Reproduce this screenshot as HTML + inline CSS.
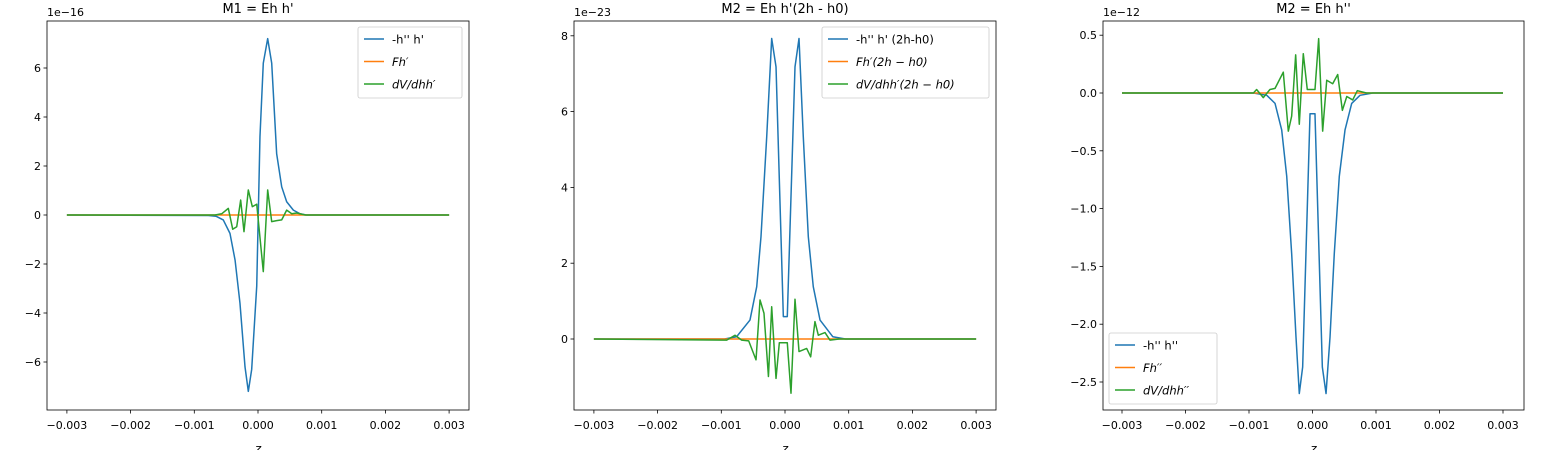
<!DOCTYPE html>
<html><head><meta charset="utf-8"><style>
body{margin:0;background:#fff;width:1550px;height:450px;overflow:hidden}
svg{font-family:"DejaVu Sans","Liberation Sans",sans-serif}
</style></head><body>
<svg id="fig" width="1550" height="450" xmlns="http://www.w3.org/2000/svg"></svg>
<script>
// ---- Panel 1 data (z in units of 1e-4, values in units of 1e-16) ----
const p1BlueZ = [-30,-7.8,-6.6,-5.45,-4.4,-3.6,-2.83,-2.04,-1.52,-0.99,-0.2,0.31,0.83,1.52,2.15,2.93,3.72,4.5,5.55,6.6,7.6,30];
const p1BlueV = [0,-0.02,-0.05,-0.2,-0.75,-1.84,-3.6,-6.2,-7.2,-6.3,-2.9,3.2,6.2,7.2,6.2,2.5,1.15,0.54,0.2,0.05,0,0];
const p1GreenZ = [-30,-8.5,-6.75,-5.7,-4.66,-3.97,-3.34,-2.72,-2.2,-1.52,-0.89,-0.2,0.83,1.52,2.15,2.93,3.72,4.5,5.3,6.07,7.4,30];
const p1GreenV = [0,0,0,0.05,0.27,-0.58,-0.48,0.61,-0.68,1.02,0.34,0.44,-2.31,1.02,-0.27,-0.23,-0.2,0.2,0.05,0.08,0,0];
// ---- Panel 2 data (values 1e-23) ----
const p2BlueZ = [-30,-9.5,-7.6,-5.5,-4.44,-3.77,-2.87,-2.09,-1.41,-0.26,0.36,1.57,2.2,2.87,3.66,4.44,5.5,7.5,9.5,30];
const p2BlueV = [0,0,0.06,0.5,1.38,2.7,5.34,7.93,7.18,0.59,0.59,7.18,7.93,5.34,2.7,1.38,0.5,0.06,0,0];
const p2GreenZ = [-30,-9.15,-7.85,-6.8,-5.7,-4.55,-3.92,-3.3,-2.6,-2.09,-1.41,-0.89,0.36,0.94,1.57,2.2,3.4,4.03,4.7,5.23,6.28,7.06,8.5,30];
const p2GreenV = [0,-0.03,0.1,-0.03,-0.05,-0.55,1.03,0.68,-0.99,0.85,-1.04,-0.1,-0.1,-1.43,1.05,-0.33,-0.25,-0.47,0.46,0.1,0.17,-0.03,0,0];
// ---- Panel 3 data (values 1e-12) ----
const p3BlueZ = [-30,-9.3,-7.2,-5.9,-4.85,-4.06,-3.28,-2.6,-2.08,-1.55,-0.39,0.39,1.55,2.13,2.76,3.43,4.22,5.12,6.17,7.48,9.5,30];
const p3BlueV = [0,0,-0.02,-0.09,-0.32,-0.72,-1.39,-2.11,-2.6,-2.37,-0.18,-0.18,-2.37,-2.6,-2.11,-1.39,-0.72,-0.32,-0.09,-0.02,0,0];
const p3GreenZ = [-30,-9.3,-8.8,-7.75,-6.7,-5.9,-4.6,-3.81,-3.28,-2.65,-2.08,-1.45,-0.82,0.39,0.97,1.6,2.24,3.18,3.97,4.7,5.4,6.33,7.06,8.5,30];
const p3GreenV = [0,0,0.03,-0.04,0.03,0.04,0.18,-0.33,-0.2,0.33,-0.27,0.34,0.03,0.03,0.47,-0.33,0.11,0.08,0.16,-0.15,-0.03,-0.06,0.02,0,0];
const xTicks = [-0.003,-0.002,-0.001,0,0.001,0.002,0.003];
const xTickLabels = ["−0.003","−0.002","−0.001","0.000","0.001","0.002","0.003"];
const p1YTicks = [-6,-4,-2,0,2,4,6];
const p2YTicks = [0,2,4,6,8];
const p3YTicks = [-2.5,-2.0,-1.5,-1.0,-0.5,0.0,0.5];
const p3YTickLabels = ["−2.5","−2.0","−1.5","−1.0","−0.5","0.0","0.5"];

const NS="http://www.w3.org/2000/svg";
const fig=document.getElementById('fig');
function mk(tag,attrs,parent){const e=document.createElementNS(NS,tag);for(const k in attrs)e.setAttribute(k,attrs[k]);(parent||fig).appendChild(e);return e;}
const BLUE="#1f77b4",ORANGE="#ff7f0e",GREEN="#2ca02c";

function panel(cfg){
  const g=mk('g',{});
  
  
  const L=cfg.x0,R=cfg.x1,T=21,B=410;
  const xs=z=>cfg.zx0+z*cfg.zpx;
  const ys=v=>cfg.y0px-v*cfg.vpx;
  function line(zs,vs,color,nm){
    const pts=zs.map((z,i)=>xs(z*1e-4).toFixed(2)+','+ys(vs[i]).toFixed(2)).join(' ');
    const p=mk('polyline',{points:pts,fill:'none',stroke:color,'stroke-width':1.5,'stroke-linejoin':'round'},g);
    
    
  }
  line(cfg.bz,cfg.bv,BLUE,'series-blue');
  const o=mk('line',{x1:xs(-0.003),x2:xs(0.003),y1:ys(0),y2:ys(0),stroke:ORANGE,'stroke-width':1.5},g);
  
  
  line(cfg.gz,cfg.gv,GREEN,'series-green');
  const f=mk('rect',{x:L,y:T,width:R-L,height:B-T,fill:'none',stroke:'#000','stroke-width':0.8},g);
  
  
  xTicks.forEach((t,i)=>{
    const x=xs(t);
    mk('line',{x1:x,x2:x,y1:B,y2:B+3.5,stroke:'#000','stroke-width':0.8},g);
    const tx=mk('text',{x:x,y:B+19,'font-size':11,'text-anchor':'middle'},g);
    tx.textContent=xTickLabels[i];
    
    
  });
  cfg.yt.forEach((t,i)=>{
    const y=ys(t);
    mk('line',{x1:L-3.5,x2:L,y1:y,y2:y,stroke:'#000','stroke-width':0.8},g);
    const tx=mk('text',{x:L-6,y:y+4,'font-size':11,'text-anchor':'end'},g);
    tx.textContent=cfg.ytl?cfg.ytl[i]:(t<0?'−'+(-t):String(t));
    
    
  });
  const off=mk('text',{x:L,y:16,'font-size':11},g);
  off.textContent=cfg.off;
  
  
  const ti=mk('text',{x:(L+R)/2,y:13,'font-size':13,'text-anchor':'middle'},g);
  ti.textContent=cfg.title;
  
  
  const xl=mk('text',{x:(L+R)/2,y:453,'font-size':12,'text-anchor':'middle','font-style':'italic'},g);
  xl.textContent='z';
  
  
  const lg=mk('g',{},g);
  
  
  mk('rect',{x:cfg.lx,y:cfg.ly,width:cfg.lw,height:71,rx:2,fill:'#fff','fill-opacity':0.8,stroke:'#ccc','stroke-width':0.8},lg);
  [[BLUE,cfg.labels[0]],[ORANGE,cfg.labels[1]],[GREEN,cfg.labels[2]]].forEach((e,i)=>{
    const y=cfg.ly+12+i*22.5;
    mk('line',{x1:cfg.lx+6,x2:cfg.lx+26,y1:y,y2:y,stroke:e[0],'stroke-width':1.5},lg);
    const t=mk('text',{x:cfg.lx+34,y:y+4.5,'font-size':11.5,'font-style':i?'italic':'normal'},lg);
    t.textContent=e[1];
    
    
  });
}
panel({name:'panel-m1',x0:47,x1:469,zx0:258,zpx:63700,y0px:215,vpx:24.5,bz:p1BlueZ,bv:p1BlueV,gz:p1GreenZ,gv:p1GreenV,yt:p1YTicks,off:'1e−16',title:"M1 = Eh h'",lx:358,ly:27,lw:104,labels:["-h'' h'","Fh′","dV/dhh′"]});
panel({name:'panel-m2a',x0:574,x1:996,zx0:785,zpx:63700,y0px:339,vpx:37.9,bz:p2BlueZ,bv:p2BlueV,gz:p2GreenZ,gv:p2GreenV,yt:p2YTicks,off:'1e−23',title:"M2 = Eh h'(2h - h0)",lx:822,ly:27,lw:167,labels:["-h'' h' (2h-h0)","Fh′(2h − h0)","dV/dhh′(2h − h0)"]});
panel({name:'panel-m2b',x0:1103,x1:1524,zx0:1312.5,zpx:63500,y0px:93,vpx:115.6,bz:p3BlueZ,bv:p3BlueV,gz:p3GreenZ,gv:p3GreenV,yt:p3YTicks,ytl:p3YTickLabels,off:'1e−12',title:"M2 = Eh h''",lx:1109,ly:333,lw:108,labels:["-h'' h''","Fh′′","dV/dhh′′"]});
</script>
</body></html>
